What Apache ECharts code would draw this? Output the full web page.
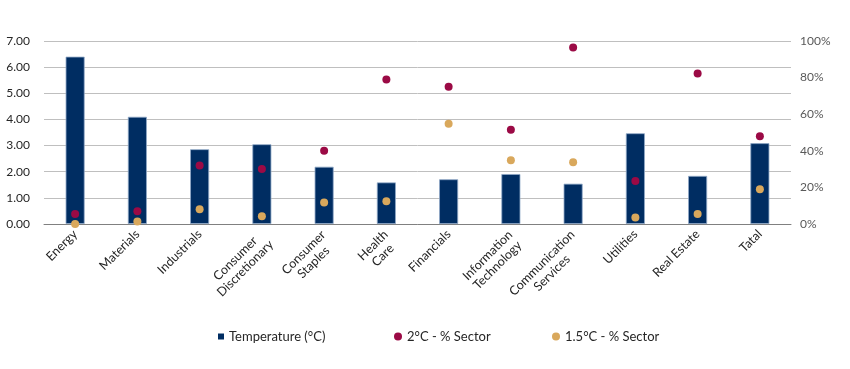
<!DOCTYPE html>
<html><head><meta charset="utf-8">
<script src="https://cdn.jsdelivr.net/npm/echarts@6/dist/echarts.min.js"></script>
<style>html,body{margin:0;padding:0;background:#fff}#c{width:850px;height:369px}</style>
</head><body><div id="c"></div>
<script>
var categories = ["Energy","Materials","Industrials","Consumer\nDiscretionary","Consumer\nStaples","Health\nCare","Financials","Information\nTechnology","Communication\nServices","Utilities","Real Estate","Tatal"];
var temperature = [6.40,4.10,2.86,3.05,2.19,1.59,1.71,1.91,1.54,3.47,1.84,3.09];
var pct2C = [0.055,0.069,0.32,0.30,0.40,0.79,0.75,0.515,0.965,0.235,0.823,0.48];
var pct15C = [0.0,0.013,0.08,0.042,0.117,0.124,0.548,0.348,0.337,0.035,0.055,0.19];
var leftTicks = [0,1,2,3,4,5,6,7];
var rightTicks = [0,0.2,0.4,0.6,0.8,1.0];

var FONT = 'Lato';
var LBL = 12.5;
var cv = document.createElement('canvas').getContext('2d');
cv.font = LBL + 'px ' + FONT;
var rich = {};
categories.forEach(function(c, i){
  var lines = c.split('\n');
  var w = Math.max.apply(null, lines.map(function(l){return cv.measureText(l).width;}));
  rich['w'+i] = {width:Math.ceil(w)+1, align:'center', fontSize:LBL, fontFamily:FONT, color:'#262626', lineHeight:14};
});

var chart = echarts.init(document.getElementById('c'));
chart.setOption({
  animation:false,
  textStyle:{fontFamily:FONT},
  grid:{left:44,right:59,top:41,bottom:145,containLabel:false},
  legend:[
    {data:[{name:'Temperature (°C)',icon:'rect',itemStyle:{borderWidth:0}}],left:213,top:325,itemWidth:6,itemHeight:6,textStyle:{fontFamily:FONT,fontSize:13,color:'#262626'}},
    {data:[{name:'2°C - % Sector',icon:'circle'}],left:389,top:325,itemWidth:8,itemHeight:8,textStyle:{fontFamily:FONT,fontSize:13,color:'#262626'}},
    {data:[{name:'1.5°C - % Sector',icon:'circle'}],left:547,top:325,itemWidth:8,itemHeight:8,textStyle:{fontFamily:FONT,fontSize:13,color:'#262626'}}
  ],
  xAxis:{type:'category',data:categories,
    axisLine:{lineStyle:{color:'#808080',width:1}},axisTick:{show:false},
    axisLabel:{rotate:45,fontSize:LBL,color:'#262626',fontFamily:FONT,interval:0,margin:8,lineHeight:14,
      formatter:function(v, i){
        var lines = v.split('\n');
        if (lines.length === 1) return v;
        return ['{w'+i+'|\u00a0}'].concat(lines.map(function(l){return '{w'+i+'|'+l+'}';})).join('\n');
      },
      rich:rich}},
  yAxis:[
    {type:'value',min:leftTicks[0],max:leftTicks[leftTicks.length-1],interval:1,
     axisLabel:{formatter:function(v){return v.toFixed(2);},fontSize:12,color:'#262626',fontFamily:FONT,margin:14},
     splitLine:{lineStyle:{color:'#bfbfbf',width:1}},axisLine:{show:false},axisTick:{show:false}},
    {type:'value',min:rightTicks[0],max:rightTicks[rightTicks.length-1],interval:0.2,
     axisLabel:{formatter:function(v){return Math.round(v*100)+'%';},fontSize:12,color:'#595959',fontFamily:FONT,margin:9},
     splitLine:{show:false},axisLine:{show:false},axisTick:{show:false}}
  ],
  series:[
    {name:'Temperature (°C)',type:'bar',data:temperature,barWidth:19,yAxisIndex:0,
     itemStyle:{color:'#002D62',borderColor:'#8fa8c6',borderWidth:0.8}},
    {name:'2°C - % Sector',type:'scatter',data:pct2C,yAxisIndex:1,symbolSize:8,
     itemStyle:{color:'#9B0A45',opacity:1}},
    {name:'1.5°C - % Sector',type:'scatter',data:pct15C,yAxisIndex:1,symbolSize:8,
     itemStyle:{color:'#D9A85C',opacity:1}}
  ]
});
</script></body></html>
